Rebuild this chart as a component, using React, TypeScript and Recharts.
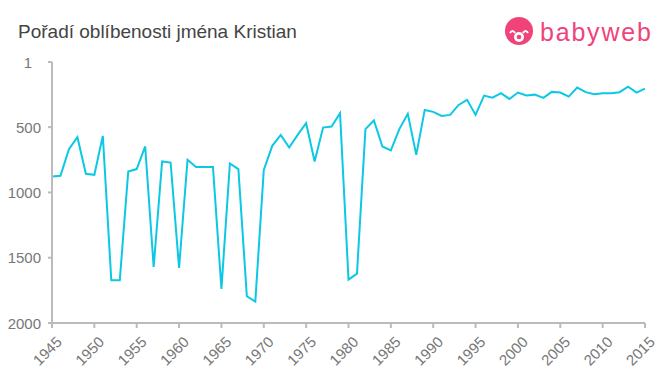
import { LineChart, Line, XAxis, YAxis } from 'recharts';

const years = [
  1945, 1946, 1947, 1948, 1949, 1950, 1951, 1952, 1953, 1954, 1955, 1956, 1957, 1958, 1959,
  1960, 1961, 1962, 1963, 1964, 1965, 1966, 1967, 1968, 1969, 1970, 1971, 1972, 1973, 1974,
  1975, 1976, 1977, 1978, 1979, 1980, 1981, 1982, 1983, 1984, 1985, 1986, 1987, 1988, 1989,
  1990, 1991, 1992, 1993, 1994, 1995, 1996, 1997, 1998, 1999, 2000, 2001, 2002, 2003, 2004,
  2005, 2006, 2007, 2008, 2009, 2010, 2011, 2012, 2013, 2014, 2015,
];

const ranks = [
  878, 872, 668, 577, 857, 865, 567, 1673, 1673, 840, 821, 648, 1571, 763, 771,
  1578, 750, 806, 806, 806, 1739, 778, 821, 1795, 1836, 827, 643, 559, 656, 559,
  470, 763, 503, 495, 393, 1668, 1622, 515, 449, 648, 678, 515, 398, 712, 368,
  383, 414, 406, 330, 291, 406, 258, 274, 240, 284, 235, 258, 251, 276, 230,
  235, 266, 197, 232, 248, 240, 240, 232, 190, 235, 205,
];

const xTicks = [1945, 1950, 1955, 1960, 1965, 1970, 1975, 1980, 1985, 1990, 1995, 2000, 2005, 2010, 2015];
const yTicks = [1, 500, 1000, 1500, 2000];

const data = years.map((year, i) => ({ year, rank: ranks[i] }));

const font = '"Liberation Sans", Arial, sans-serif';
const pink = '#f0437a';

function XTick({ x, y, payload }: any) {
  const ax = x + 3;
  const ay = y + 5;
  return (
    <text
      x={ax}
      y={ay}
      transform={`rotate(-45, ${ax}, ${ay})`}
      textAnchor="end"
      dominantBaseline="hanging"
      fill="#777"
      fontSize={15}
      fontFamily={font}
    >
      {payload.value}
    </text>
  );
}

function YTick({ x, y, payload }: any) {
  // the "1" label sits a bit further left in the original
  const dx = payload.value === 1 ? -14 : -5;
  return (
    <text
      x={x + dx}
      y={y}
      textAnchor="end"
      dominantBaseline="central"
      fill="#777"
      fontSize={15}
      fontFamily={font}
    >
      {payload.value}
    </text>
  );
}

export default function App() {
  return (
    <div style={{ position: 'fixed', top: 0, left: 0, width: 660, height: 375, background: '#fff' }}>
      <svg width={660} height={60} style={{ position: 'absolute', top: 0, left: 0 }}>
        <text x={18} y={38} fontFamily={font} fontSize={19} fill="#444">
          Pořadí oblíbenosti jména Kristian
        </text>
        <circle cx={519} cy={31} r={14} fill={pink} />
        <circle cx={519} cy={37} r={5} fill="#fff" />
        <circle cx={519} cy={37} r={2.3} fill={pink} />
        <path d="M510 33 q2.5 -4 5 0" stroke="#fff" strokeWidth={2.2} fill="none" />
        <path d="M523 33 q2.5 -4 5 0" stroke="#fff" strokeWidth={2.2} fill="none" />
        <text x={540} y={41} fontFamily={font} fontSize={25} letterSpacing={1.8} fill={pink}>
          babyweb
        </text>
      </svg>
      <LineChart
        width={660}
        height={375}
        data={data}
        margin={{ top: 62, right: 15, bottom: 0, left: 0 }}
        style={{ position: 'absolute', top: 0, left: 0 }}
      >
        <XAxis
          dataKey="year"
          type="number"
          domain={[1945, 2015]}
          ticks={xTicks}
          interval={0}
          height={52}
          stroke="#bbb"
          strokeWidth={2}
          tickSize={5}
          tick={<XTick />}
        />
        <YAxis
          reversed
          type="number"
          domain={[1, 2000]}
          ticks={yTicks}
          interval={0}
          width={52}
          stroke="#bbb"
          strokeWidth={2}
          tickSize={4}
          tick={<YTick />}
        />
        <Line
          dataKey="rank"
          stroke="#0cc8e4"
          strokeWidth={2}
          dot={false}
          isAnimationActive={false}
        />
      </LineChart>
    </div>
  );
}
